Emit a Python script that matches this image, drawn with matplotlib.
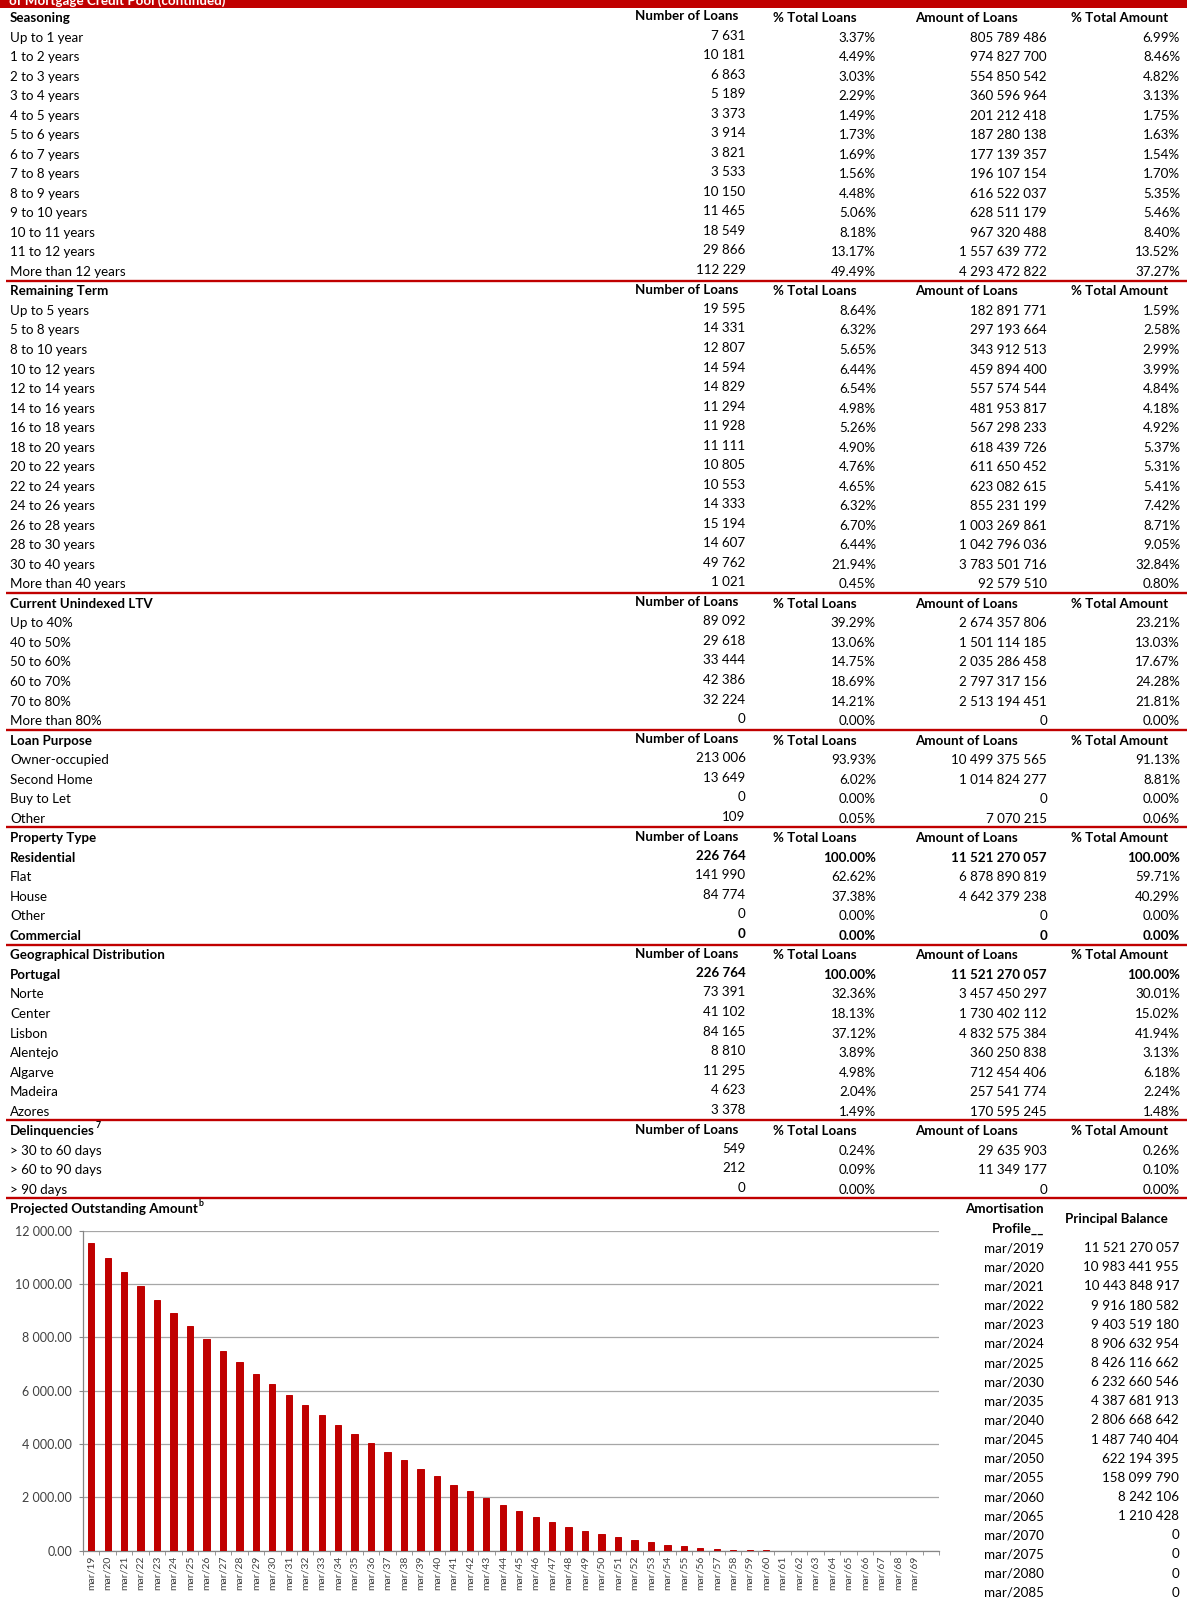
import matplotlib
matplotlib.use("Agg")
import matplotlib.pyplot as plt
import numpy as np
from matplotlib.patches import Rectangle
from matplotlib.ticker import FuncFormatter

plt.rcParams["font.family"] = ["Lato", "DejaVu Sans"]

W, H = 1187, 1603
RED = "#c00000"

# ---- table data -------------------------------------------------------------
seasoning_labels = ["Up to 1 year", "1 to 2 years", "2 to 3 years", "3 to 4 years", "4 to 5 years",
                    "5 to 6 years", "6 to 7 years", "7 to 8 years", "8 to 9 years", "9 to 10 years",
                    "10 to 11 years", "11 to 12 years", "More than 12 years"]
seasoning_loans = [7631, 10181, 6863, 5189, 3373, 3914, 3821, 3533, 10150, 11465, 18549, 29866, 112229]
seasoning_pct_loans = [3.37, 4.49, 3.03, 2.29, 1.49, 1.73, 1.69, 1.56, 4.48, 5.06, 8.18, 13.17, 49.49]
seasoning_amount = [805789486, 974827700, 554850542, 360596964, 201212418, 187280138, 177139357,
                    196107154, 616522037, 628511179, 967320488, 1557639772, 4293472822]
seasoning_pct_amount = [6.99, 8.46, 4.82, 3.13, 1.75, 1.63, 1.54, 1.70, 5.35, 5.46, 8.40, 13.52, 37.27]

term_labels = ["Up to 5 years", "5 to 8 years", "8 to 10 years", "10 to 12 years", "12 to 14 years",
               "14 to 16 years", "16 to 18 years", "18 to 20 years", "20 to 22 years", "22 to 24 years",
               "24 to 26 years", "26 to 28 years", "28 to 30 years", "30 to 40 years", "More than 40 years"]
term_loans = [19595, 14331, 12807, 14594, 14829, 11294, 11928, 11111, 10805, 10553, 14333, 15194, 14607, 49762, 1021]
term_pct_loans = [8.64, 6.32, 5.65, 6.44, 6.54, 4.98, 5.26, 4.90, 4.76, 4.65, 6.32, 6.70, 6.44, 21.94, 0.45]
term_amount = [182891771, 297193664, 343912513, 459894400, 557574544, 481953817, 567298233, 618439726,
               611650452, 623082615, 855231199, 1003269861, 1042796036, 3783501716, 92579510]
term_pct_amount = [1.59, 2.58, 2.99, 3.99, 4.84, 4.18, 4.92, 5.37, 5.31, 5.41, 7.42, 8.71, 9.05, 32.84, 0.80]

ltv_labels = ["Up to 40%", "40 to 50%", "50 to 60%", "60 to 70%", "70 to 80%", "More than 80%"]
ltv_loans = [89092, 29618, 33444, 42386, 32224, 0]
ltv_pct_loans = [39.29, 13.06, 14.75, 18.69, 14.21, 0.00]
ltv_amount = [2674357806, 1501114185, 2035286458, 2797317156, 2513194451, 0]
ltv_pct_amount = [23.21, 13.03, 17.67, 24.28, 21.81, 0.00]

purpose_labels = ["Owner-occupied", "Second Home", "Buy to Let", "Other"]
purpose_loans = [213006, 13649, 0, 109]
purpose_pct_loans = [93.93, 6.02, 0.00, 0.05]
purpose_amount = [10499375565, 1014824277, 0, 7070215]
purpose_pct_amount = [91.13, 8.81, 0.00, 0.06]

property_labels = ["Residential", "Flat", "House", "Other", "Commercial"]
property_loans = [226764, 141990, 84774, 0, 0]
property_pct_loans = [100.00, 62.62, 37.38, 0.00, 0.00]
property_amount = [11521270057, 6878890819, 4642379238, 0, 0]
property_pct_amount = [100.00, 59.71, 40.29, 0.00, 0.00]

geo_labels = ["Portugal", "Norte", "Center", "Lisbon", "Alentejo", "Algarve", "Madeira", "Azores"]
geo_loans = [226764, 73391, 41102, 84165, 8810, 11295, 4623, 3378]
geo_pct_loans = [100.00, 32.36, 18.13, 37.12, 3.89, 4.98, 2.04, 1.49]
geo_amount = [11521270057, 3457450297, 1730402112, 4832575384, 360250838, 712454406, 257541774, 170595245]
geo_pct_amount = [100.00, 30.01, 15.02, 41.94, 3.13, 6.18, 2.24, 1.48]

delinq_labels = ["> 30 to 60 days", "> 60 to 90 days", "> 90 days"]
delinq_loans = [549, 212, 0]
delinq_pct_loans = [0.24, 0.09, 0.00]
delinq_amount = [29635903, 11349177, 0]
delinq_pct_amount = [0.26, 0.10, 0.00]

bold_rows = {"Residential", "Commercial", "Portugal"}

col_headers = ["Number of Loans", "% Total Loans", "Amount of Loans", "% Total Amount"]

# ---- amortisation profile ---------------------------------------------------
amort_dates = ["mar/2019", "mar/2020", "mar/2021", "mar/2022", "mar/2023", "mar/2024", "mar/2025",
               "mar/2030", "mar/2035", "mar/2040", "mar/2045", "mar/2050", "mar/2055", "mar/2060",
               "mar/2065", "mar/2070", "mar/2075", "mar/2080", "mar/2085"]
amort_balance = [11521270057, 10983441955, 10443848917, 9916180582, 9403519180, 8906632954, 8426116662,
                 6232660546, 4387681913, 2806668642, 1487740404, 622194395, 158099790, 8242106,
                 1210428, 0, 0, 0, 0]

# projected outstanding amount, millions (annual)
proj_years = list(range(2019, 2070))
proj_values = [11521.27, 10983.44, 10443.85, 9916.18, 9403.52, 8906.63, 8426.12, 7950, 7500, 7060,
               6620, 6232.66, 5825, 5462, 5100, 4725, 4387.68, 4037, 3700, 3400,
               3075, 2806.67, 2480, 2225, 1975, 1716, 1487.74, 1247, 1062, 889,
               741, 622.19, 519, 408, 309, 205, 158.10, 100, 60, 30,
               15, 8.24, 5, 4, 3, 2, 1.21, 0.8, 0.5, 0.2, 0]


def fmt_int(v):
    return f"{v:,}".replace(",", " ")


def fmt_pct(v):
    return f"{v:.2f}%"


sections = [
    ("Seasoning", seasoning_labels, seasoning_loans, seasoning_pct_loans, seasoning_amount, seasoning_pct_amount),
    ("Remaining Term", term_labels, term_loans, term_pct_loans, term_amount, term_pct_amount),
    ("Current Unindexed LTV", ltv_labels, ltv_loans, ltv_pct_loans, ltv_amount, ltv_pct_amount),
    ("Loan Purpose", purpose_labels, purpose_loans, purpose_pct_loans, purpose_amount, purpose_pct_amount),
    ("Property Type", property_labels, property_loans, property_pct_loans, property_amount, property_pct_amount),
    ("Geographical Distribution", geo_labels, geo_loans, geo_pct_loans, geo_amount, geo_pct_amount),
    ("Delinquencies", delinq_labels, delinq_loans, delinq_pct_loans, delinq_amount, delinq_pct_amount),
]

FS = 9.6
ROW0, PITCH = 17.4, 19.53
LABEL_X = 10
HEAD_X = [687, 815, 966, 1120]
VAL_X = [745.5, 876, 1047, 1180]

fig = plt.figure(figsize=(W / 100, H / 100), dpi=100)
tab = fig.add_axes([0, 0, 1, 1])
tab.set_xlim(0, W)
tab.set_ylim(H, 0)
tab.axis("off")


def row_y(i):
    return ROW0 + PITCH * i + 4.6


def red_line(y):
    tab.plot([6, W], [y, y], color=RED, lw=1.7, solid_capstyle="butt")


def superscript(txt, s):
    renderer = fig.canvas.get_renderer()
    bb = txt.get_window_extent(renderer)
    x, y = txt.get_position()
    tab.text(bb.x1 + 1, y - 7, s, fontsize=6.3, fontweight="bold", ha="left", va="baseline")


# title band (mostly cut off at the top of the page)
tab.add_patch(Rectangle((0, 0), W, 7.5, color=RED, lw=0))
tab.text(9, 4.8, "of Mortgage Credit Pool (continued)", color="white", fontsize=FS,
         fontweight="bold", ha="left", va="baseline")

row = 0
for title, labels, loans, pct_l, amount, pct_a in sections:
    y = row_y(row)
    t = tab.text(LABEL_X, y, title, fontsize=FS, fontweight="bold", ha="left", va="baseline")
    if title == "Delinquencies":
        superscript(t, "7")
    for k, head in enumerate(col_headers):
        dy = -1.5 if k == 0 else 0
        tab.text(HEAD_X[k], y + dy, head, fontsize=FS, fontweight="bold", ha="center", va="baseline")
    row += 1
    for lab, n, pl, am, pa in zip(labels, loans, pct_l, amount, pct_a):
        y = row_y(row)
        w = "bold" if lab in bold_rows else "normal"
        tab.text(LABEL_X, y, lab, fontsize=FS, fontweight=w, ha="left", va="baseline")
        cells = [fmt_int(n), fmt_pct(pl), fmt_int(am), fmt_pct(pa)]
        for k, c in enumerate(cells):
            dy = -2 if k == 0 else 0
            tab.text(VAL_X[k], y + dy, c, fontsize=FS, fontweight=w, ha="right", va="baseline")
        row += 1
    red_line((row_y(row - 1) + row_y(row)) / 2 - 4.6 - 0.5)

# chart title
t = tab.text(LABEL_X, row_y(row), "Projected Outstanding Amount", fontsize=FS, fontweight="bold",
             ha="left", va="baseline")
superscript(t, "b")

# amortisation profile table
tab.text(1044, 1208 + 4.6, "Amortisation", fontsize=FS, fontweight="bold", ha="right", va="baseline")
tab.text(1044, 1228 + 4.6, "Profile__", fontsize=FS, fontweight="bold", ha="right", va="baseline")
tab.text(1116, 1218 + 4.6, "Principal Balance", fontsize=FS, fontweight="bold", ha="center", va="baseline")
for k, (d, b) in enumerate(zip(amort_dates, amort_balance)):
    y = 1247.5 + 19.15 * k + 4.6
    tab.text(1044, y, d, fontsize=FS, ha="right", va="baseline")
    tab.text(1179, y, fmt_int(b), fontsize=FS, ha="right", va="baseline")

# ---- bar chart ----------------------------------------------------------------
ax = fig.add_axes([83 / W, 1 - 1550.7 / H, 856 / W, 320 / H])
x = np.arange(len(proj_years))
lw = [0.7 if v > 0 else 0 for v in proj_values]
ax.bar(x, proj_values, width=0.38, color=RED, edgecolor=RED, linewidth=lw, zorder=3)
# one empty slot after the last year, as in the source chart
ax.set_xlim(-0.5, len(proj_years) + 0.5)
ax.set_ylim(0, 12000)
ax.set_yticks(range(0, 12001, 2000))
ax.yaxis.set_major_formatter(FuncFormatter(lambda v, _: f"{v:,.2f}".replace(",", " ")))
ax.grid(axis="y", color="#a6a6a6", lw=0.9, zorder=0)
ax.set_axisbelow(True)
for side in ("top", "right"):
    ax.spines[side].set_visible(False)
for side in ("left", "bottom"):
    ax.spines[side].set_color("#868686")
    ax.spines[side].set_linewidth(0.9)

ax.set_xticks(x)
ax.set_xticklabels([f"mar/{yr % 100:02d}" for yr in proj_years], rotation=90, fontsize=7.5, color="#404040")
ax.set_xticks(np.arange(-0.5, len(proj_years) + 1, 1), minor=True)
ax.tick_params(axis="x", which="major", length=0, pad=3.6)
ax.tick_params(axis="x", which="minor", length=3, color="#868686", direction="out")
ax.tick_params(axis="y", length=3, color="#868686", labelsize=9, labelcolor="#404040", pad=5)
ax.patch.set_alpha(0)

fig.savefig("out.png", dpi=100)
